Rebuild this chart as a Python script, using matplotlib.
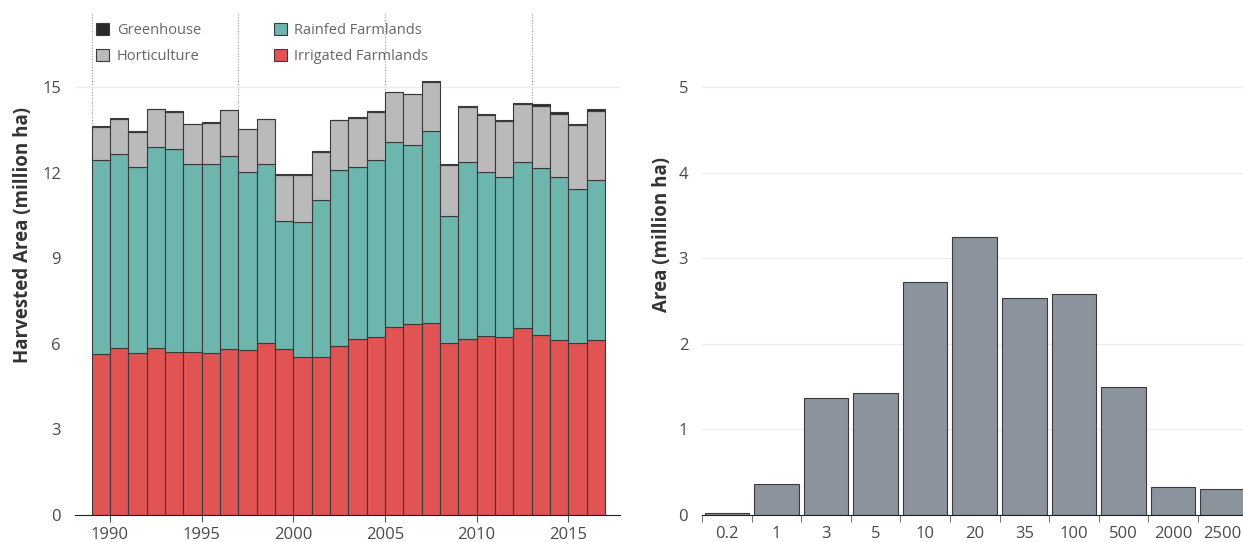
import matplotlib.pyplot as plt
import numpy as np

plt.rcParams['font.family'] = ['Open Sans', 'DejaVu Sans']

years = list(range(1989, 2017))
irrigated = [5.63, 5.84, 5.69, 5.84, 5.72, 5.72, 5.69, 5.83, 5.78, 6.03,
             5.83, 5.53, 5.53, 5.94, 6.17, 6.25, 6.58, 6.70, 6.74, 6.02,
             6.16, 6.27, 6.25, 6.55, 6.30, 6.13, 6.04, 6.13]
rainfed_top = [12.44, 12.65, 12.21, 12.90, 12.83, 12.32, 12.32, 12.60, 12.03, 12.32,
               10.32, 10.27, 11.04, 12.09, 12.21, 12.44, 13.07, 12.96, 13.45, 10.48,
               12.39, 12.03, 11.86, 12.39, 12.15, 11.86, 11.41, 11.76]
total = [13.63, 13.91, 13.46, 14.24, 14.16, 13.72, 13.77, 14.21, 13.54, 13.89,
         11.94, 11.94, 12.76, 13.86, 13.95, 14.16, 14.84, 14.77, 15.23, 12.30,
         14.34, 14.05, 13.86, 14.44, 14.39, 14.12, 13.72, 14.22]
greenhouse = [0.02, 0.02, 0.02, 0.02, 0.02, 0.02, 0.02, 0.02, 0.02, 0.02,
              0.03, 0.03, 0.03, 0.03, 0.03, 0.03, 0.03, 0.03, 0.04, 0.04,
              0.04, 0.04, 0.05, 0.05, 0.05, 0.05, 0.05, 0.06]

size_labels = ['0.2', '1', '3', '5', '10', '20', '35', '100', '500', '2000', '2500']
size_area = [0.02, 0.36, 1.37, 1.43, 2.72, 3.25, 2.53, 2.58, 1.49, 0.33, 0.30]

irrigated = np.array(irrigated)
rainfed = np.array(rainfed_top) - irrigated
greenhouse = np.array(greenhouse)
horticulture = np.array(total) - np.array(rainfed_top) - greenhouse

c_irr = '#e15453'
c_rain = '#6cb6ae'
c_hort = '#bababa'
c_green = '#2a2a2a'
edge = '#3a3a3a'
txt = '#4a4a4a'

fig = plt.figure(figsize=(12.43, 5.42), dpi=100)
ax1 = fig.add_axes([0.0603, 0.0498, 0.4385, 0.928])
ax2 = fig.add_axes([0.5648, 0.0498, 0.4352, 0.928])

x = np.array(years) + 0.5
for yr in [1989, 1997, 2005, 2013]:
    ax1.axvline(yr, color='#9a9a9a', ls=(0, (1, 1.5)), lw=0.8, zorder=0)
ax1.axhline(15, color='#ececec', lw=1, zorder=0)

kw = dict(width=1.0, edgecolor=edge, linewidth=0.8, zorder=2)
ax1.bar(x, irrigated, color=c_irr, label='Irrigated Farmlands', **kw)
ax1.bar(x, rainfed, bottom=irrigated, color=c_rain, label='Rainfed Farmlands', **kw)
ax1.bar(x, horticulture, bottom=irrigated + rainfed, color=c_hort, label='Horticulture', **kw)
ax1.bar(x, greenhouse, bottom=irrigated + rainfed + horticulture, color=c_green,
        label='Greenhouse', **kw)

ax1.set_xlim(1988.09, 2017.82)
ax1.set_ylim(0, 17.63)
ax1.set_yticks([0, 3, 6, 9, 12, 15])
ax1.set_xticks([1990, 1995, 2000, 2005, 2010, 2015])
ax1.set_ylabel('Harvested Area (million ha)', fontsize=13.5, fontweight='bold',
               color='#333333')
ax1.yaxis.set_label_coords(-0.077, 0.557)
for s in ['top', 'right', 'left']:
    ax1.spines[s].set_visible(False)
ax1.spines['bottom'].set_color('#222222')
ax1.tick_params(axis='y', length=0, labelsize=12, colors=txt, pad=10)
ax1.tick_params(axis='x', length=5, color='#555555', labelsize=12, colors=txt)

h, l = ax1.get_legend_handles_labels()
order = [3, 2, 1, 0]
leg = ax1.legend([h[i] for i in order], [l[i] for i in order], ncol=2,
                 loc='upper left', bbox_to_anchor=(0.015, 1.005), frameon=False,
                 fontsize=10.5, handlelength=0.9, handleheight=0.9,
                 columnspacing=5.0, handletextpad=0.5, labelspacing=0.75)
for t in leg.get_texts():
    t.set_color('#666666')

# right chart
pos = np.arange(len(size_labels))
ax2.set_axisbelow(True)
ax2.grid(axis='y', color='#ececec', lw=1)
ax2.bar(pos, size_area, width=0.9, color='#8b939c', edgecolor=edge, linewidth=0.8, zorder=2)
ax2.set_xlim(-0.5, 10.41)
ax2.set_ylim(0, 5.876)
ax2.set_yticks([0, 1, 2, 3, 4, 5])
ax2.set_xticks(pos)
ax2.set_xticklabels(size_labels)
ax2.set_xticks(np.arange(-0.5, 10, 1), minor=True)
ax2.set_ylabel('Area (million ha)', fontsize=13.5, fontweight='bold',
               color='#333333')
ax2.yaxis.set_label_coords(-0.056, 0.557)
for s in ['top', 'right', 'left']:
    ax2.spines[s].set_visible(False)
ax2.spines['bottom'].set_color('#222222')
ax2.tick_params(axis='y', length=0, labelsize=12, colors=txt, pad=10)
ax2.tick_params(axis='x', which='major', length=0, labelsize=12, colors=txt, pad=8)
ax2.tick_params(axis='x', which='minor', length=5, color='#555555')

fig.savefig('out.png', dpi=100)
